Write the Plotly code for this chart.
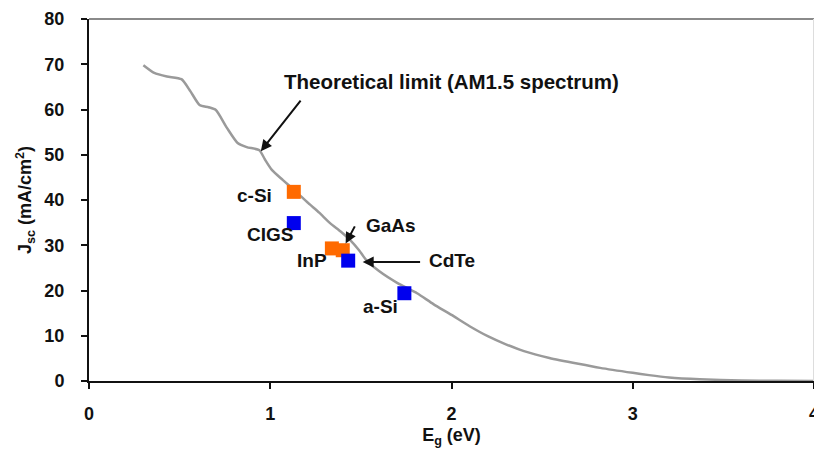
import plotly.graph_objects as go

# Theoretical limit curve (AM1.5 spectrum)
limit_eg = [0.30, 0.36, 0.43, 0.51, 0.56, 0.61, 0.66, 0.70, 0.76, 0.82, 0.87, 0.94,
            0.97, 1.01, 1.07, 1.14, 1.21, 1.27, 1.33, 1.39, 1.44, 1.49, 1.53, 1.60,
            1.70, 1.81, 1.90, 2.00, 2.10, 2.20, 2.30, 2.40, 2.54, 2.70, 2.82, 3.00,
            3.09, 3.20, 3.37, 3.60, 3.80, 4.00]
limit_jsc = [69.8, 68.1, 67.3, 66.7, 64.0, 61.0, 60.5, 59.9, 56.0, 52.6, 51.7, 51.0,
             49.0, 46.6, 44.4, 41.9, 39.3, 37.2, 34.9, 33.0, 31.2, 28.9, 26.7, 24.3,
             21.7, 19.4, 17.0, 14.6, 12.1, 9.9, 8.1, 6.6, 5.1, 3.8, 2.9, 1.8,
             1.3, 0.8, 0.4, 0.1, 0.03, 0.0]

# Measured cells
orange_names = ["c-Si", "InP", "GaAs"]
orange_eg = [1.13, 1.34, 1.40]
orange_jsc = [41.8, 29.3, 28.9]

blue_names = ["CIGS", "CdTe", "a-Si"]
blue_eg = [1.13, 1.43, 1.74]
blue_jsc = [34.9, 26.6, 19.4]

x_ticks = [0, 1, 2, 3, 4]
y_ticks = [0, 10, 20, 30, 40, 50, 60, 70, 80]

FONT = "Liberation Sans, Arial, sans-serif"

fig = go.Figure()
fig.add_trace(go.Scatter(x=limit_eg, y=limit_jsc, mode="lines",
                         line=dict(color="#9a9a9a", width=2.5, shape="spline", smoothing=0.6),
                         hoverinfo="skip", showlegend=False))
fig.add_trace(go.Scatter(x=orange_eg, y=orange_jsc, mode="markers", text=orange_names,
                         marker=dict(symbol="square", size=14, color="#ff6a00"),
                         showlegend=False))
fig.add_trace(go.Scatter(x=blue_eg, y=blue_jsc, mode="markers", text=blue_names,
                         marker=dict(symbol="square", size=14, color="#0000ee"),
                         showlegend=False))

lab = dict(font=dict(family=FONT, size=19, color="#111"), showarrow=False,
           xref="x", yref="y")
annotations = [
    dict(text="<b>Theoretical limit (AM1.5 spectrum)</b>", x=2.0, y=66.1,
         font=dict(family=FONT, size=20.5, color="#111"), showarrow=False, xref="x", yref="y"),
    dict(text="<b>c-Si</b>", x=0.915, y=41.1, **lab),
    dict(text="<b>CIGS</b>", x=0.997, y=32.3, **lab),
    dict(text="<b>InP</b>", x=1.229, y=26.7, **lab),
    dict(text="<b>GaAs</b>", x=1.667, y=34.3, **lab),
    dict(text="<b>CdTe</b>", x=2.0, y=26.7, **lab),
    dict(text="<b>a-Si</b>", x=1.61, y=16.4, **lab),
]
arrow = dict(text="", showarrow=True, arrowhead=2, arrowsize=1.1, arrowwidth=2,
             arrowcolor="#111", xref="x", yref="y", axref="x", ayref="y")
annotations += [
    dict(x=0.948, y=50.8, ax=1.174, ay=62.3, **arrow),
    dict(x=1.416, y=30.4, ax=1.471, ay=34.5, **arrow),
    dict(x=1.51, y=26.3, ax=1.835, ay=26.3, **arrow),
]

fig.update_layout(
    width=814, height=459,
    margin=dict(l=89, r=0, t=19, b=78),
    paper_bgcolor="white", plot_bgcolor="white",
    font=dict(family=FONT, color="#111"),
    annotations=annotations,
    shapes=[
        dict(type="line", xref="paper", yref="paper", x0=0, x1=1, y0=1, y1=1,
             line=dict(color="#8a8a8a", width=2)),
        dict(type="line", xref="paper", yref="paper", x0=1, x1=1, y0=0, y1=1,
             line=dict(color="#dddddd", width=2)),
    ],
)
fig.update_xaxes(range=[0, 4], tickvals=x_ticks, ticktext=[f"<b>{v}</b>" for v in x_ticks],
                 automargin=False,
                 showgrid=False, zeroline=False, showline=True, linecolor="#111", linewidth=2,
                 ticks="outside", ticklen=6, tickwidth=1.5, tickcolor="#111",
                 tickfont=dict(family=FONT, size=18, color="#111"), ticklabelstandoff=9,
                 ticklabeloverflow="allow",
                 title=dict(text="<b>E<sub>g</sub> (eV)</b>", font=dict(family=FONT, size=18, color="#111"),
                            standoff=6))
fig.update_yaxes(range=[0, 80], tickvals=y_ticks, ticktext=[f"<b>{v}</b>" for v in y_ticks],
                 automargin=False,
                 showgrid=False, zeroline=False, showline=True, linecolor="#111", linewidth=2,
                 ticks="outside", ticklen=6, tickwidth=1.5, tickcolor="#111",
                 tickfont=dict(family=FONT, size=18, color="#111"), ticklabelstandoff=13,
                 title=dict(text="<b>J<sub>sc</sub> (mA/cm<sup>2</sup>)</b>",
                            font=dict(family=FONT, size=18, color="#111"), standoff=8))

fig.write_html("out.html")
